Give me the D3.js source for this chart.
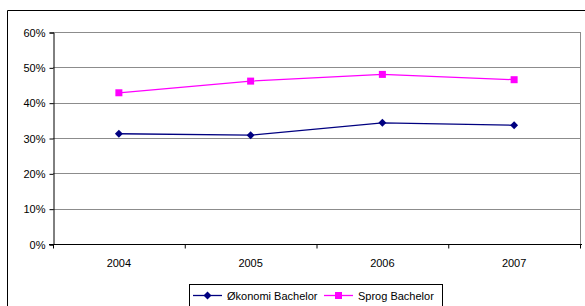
<!DOCTYPE html>
<html>
<head>
<meta charset="utf-8">
<script src="https://cdn.jsdelivr.net/npm/d3@7"></script>
<style>
  body { margin: 0; background: #fff; }
  text { font-family: "Liberation Sans", Arial, sans-serif; }
</style>
</head>
<body>
<div id="chart"></div>
<script>
// Data
const years = ['2004', '2005', '2006', '2007'];
const oekonomi = [0.312, 0.308, 0.343, 0.336];
const sprog = [0.428, 0.461, 0.480, 0.465];
const yTicks = [0, 0.1, 0.2, 0.3, 0.4, 0.5, 0.6];

const W = 585, H = 306;
const plot = { left: 53, right: 580, top: 32, bottom: 244 };

const svg = d3.select('#chart').append('svg')
  .attr('width', W).attr('height', H);

// outer chart border (cut off on right and bottom)
svg.append('path')
  .attr('d', `M7.5,${H}V10.5H${W}`)
  .attr('fill', 'none').attr('stroke', '#000').attr('stroke-width', 1);

const x = d3.scaleBand().domain(years).range([plot.left, plot.right]);
const y = d3.scaleLinear().domain([0, 0.6]).range([plot.bottom, plot.top]);

// gridlines
svg.append('g').selectAll('line')
  .data(yTicks.filter(d => d > 0))
  .enter().append('line')
  .attr('x1', plot.left).attr('x2', plot.right)
  .attr('y1', d => Math.round(y(d)) + 0.5).attr('y2', d => Math.round(y(d)) + 0.5)
  .attr('stroke', '#8c8c8c').attr('stroke-width', 1);

// plot area right border
svg.append('line')
  .attr('x1', plot.right + 0.5).attr('x2', plot.right + 0.5)
  .attr('y1', plot.top).attr('y2', plot.bottom)
  .attr('stroke', '#8c8c8c');

// y axis
const yAxis = svg.append('g')
  .attr('transform', `translate(${plot.left + 0.5},0.5)`)
  .call(d3.axisLeft(y).tickValues(yTicks).tickFormat(d3.format('.0%')).tickSize(4).tickPadding(4));
yAxis.select('.domain').attr('stroke', '#000');
yAxis.selectAll('text').attr('font-size', 11).attr('fill', '#000')
  .attr('font-family', '"Liberation Sans", Arial, sans-serif');

// x axis with ticks at category boundaries
const xAxis = svg.append('g')
  .attr('transform', `translate(0,${plot.bottom + 0.5})`);
xAxis.append('line')
  .attr('x1', plot.left - 4).attr('x2', plot.right + 2)
  .attr('stroke', '#000');
xAxis.selectAll('.tk')
  .data(years.concat(['end']))
  .enter().append('line')
  .attr('x1', (d, i) => i < years.length ? x(d) + 0.5 : plot.right + 0.5)
  .attr('x2', (d, i) => i < years.length ? x(d) + 0.5 : plot.right + 0.5)
  .attr('y1', 0).attr('y2', 4)
  .attr('stroke', '#000');
xAxis.selectAll('text')
  .data(years)
  .enter().append('text')
  .attr('x', d => x(d) + x.bandwidth() / 2)
  .attr('y', 22)
  .attr('text-anchor', 'middle')
  .attr('font-size', 11)
  .text(d => d);

const line = d3.line()
  .x((d, i) => x(years[i]) + x.bandwidth() / 2)
  .y(d => y(d));

const navy = '#000080', magenta = '#ff00ff';

svg.append('path').datum(sprog)
  .attr('d', line).attr('fill', 'none')
  .attr('stroke', magenta).attr('stroke-width', 1.3);
svg.append('path').datum(oekonomi)
  .attr('d', line).attr('fill', 'none')
  .attr('stroke', navy).attr('stroke-width', 1.3);

const diamond = d3.symbol().type(d3.symbolDiamond2).size(40);

svg.append('g').selectAll('rect')
  .data(sprog).enter().append('rect')
  .attr('x', (d, i) => x(years[i]) + x.bandwidth() / 2 - 3.5)
  .attr('y', d => y(d) - 3.5)
  .attr('width', 7).attr('height', 7)
  .attr('fill', magenta);

svg.append('g').selectAll('path')
  .data(oekonomi).enter().append('path')
  .attr('d', diamond)
  .attr('transform', (d, i) => `translate(${x(years[i]) + x.bandwidth() / 2},${y(d)})`)
  .attr('fill', navy);

// legend
const lg = svg.append('g');
lg.append('rect')
  .attr('x', 189.5).attr('y', 284.5).attr('width', 253).attr('height', 30)
  .attr('fill', '#fff').attr('stroke', '#000');
const items = [
  { name: 'Økonomi Bachelor', color: navy, x0: 193, marker: 'diamond' },
  { name: 'Sprog Bachelor', color: magenta, x0: 324, marker: 'square' }
];
items.forEach(it => {
  const cy = 295.5;
  lg.append('line')
    .attr('x1', it.x0).attr('x2', it.x0 + 29)
    .attr('y1', cy).attr('y2', cy)
    .attr('stroke', it.color).attr('stroke-width', 1.3);
  if (it.marker === 'diamond') {
    lg.append('path').attr('d', diamond)
      .attr('transform', `translate(${it.x0 + 14.5},${cy})`)
      .attr('fill', it.color);
  } else {
    lg.append('rect')
      .attr('x', it.x0 + 11).attr('y', cy - 3.5)
      .attr('width', 7).attr('height', 7).attr('fill', it.color);
  }
  lg.append('text')
    .attr('x', it.x0 + 34).attr('y', cy + 4)
    .attr('font-size', 11)
    .text(it.name);
});
</script>
</body>
</html>
